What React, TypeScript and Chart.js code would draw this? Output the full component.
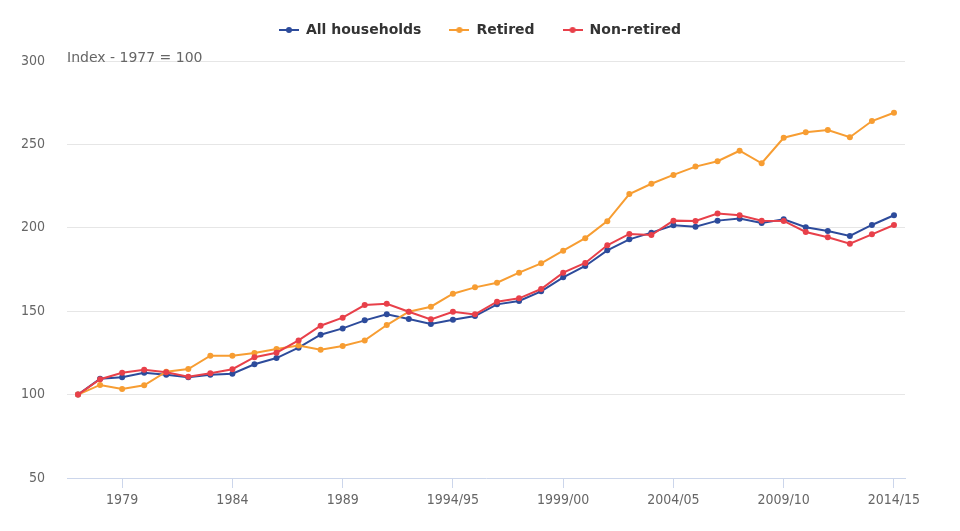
import React, { useEffect, useRef } from 'react';
import { Chart, registerables } from 'chart.js';

Chart.register(...registerables);

const categories = [
  '1977', '1978', '1979', '1980', '1981', '1982', '1983', '1984', '1985', '1986',
  '1987', '1988', '1989', '1990', '1991', '1992', '1993', '1994/95', '1995/96', '1996/97',
  '1997/98', '1998/99', '1999/00', '2000/01', '2001/02', '2002/03', '2003/04', '2004/05',
  '2005/06', '2006/07', '2007/08', '2008/09', '2009/10', '2010/11', '2011/12', '2012/13',
  '2013/14', '2014/15',
];

const allHouseholds = [
  100, 109.5, 110.4, 113.1, 111.9, 110.4, 111.9, 112.5, 118.2, 121.9,
  128.1, 135.9, 139.7, 144.5, 148.1, 145.3, 142.3, 144.9, 147.1, 154.1,
  156.1, 161.9, 170.3, 177.1, 186.5, 193.1, 197.1, 201.5, 200.7, 204.3,
  205.5, 202.9, 205.1, 200.3, 198.1, 195.1, 201.7, 207.5,
];

const retired = [
  100, 105.8, 103.4, 105.6, 113.7, 115.3, 123.3, 123.3, 124.9, 127.3,
  129.5, 126.9, 129.1, 132.5, 141.7, 149.7, 152.7, 160.5, 164.3, 167.1,
  173.1, 178.7, 186.3, 193.8, 204.0, 220.2, 226.4, 231.7, 236.7, 239.9,
  246.2, 238.7, 254.0, 257.3, 258.6, 254.3, 264.0, 269.0,
];

const nonRetired = [
  100, 109.2, 113.1, 114.9, 113.4, 110.7, 112.8, 115.2, 122.4, 125.1,
  132.5, 141.3, 146.1, 153.7, 154.5, 149.7, 145.1, 149.7, 148.1, 155.7,
  157.7, 163.3, 173.1, 178.9, 189.5, 196.3, 195.7, 204.3, 204.1, 208.5,
  207.5, 204.3, 204.1, 197.5, 194.3, 190.5, 196.1, 201.7,
];

const seriesNames = ['All households', 'Retired', 'Non-retired'];
const seriesColors = ['#2d4b9b', '#f79d32', '#e8404a'];
const axisTitle = 'Index - 1977 = 100';
const yMin = 50;
const yMax = 300;
const yStep = 50;
const labelEvery = 5;
const firstLabelIndex = 2;

const TICK_FONT = '"DejaVu Sans Condensed", "DejaVu Sans", sans-serif';
const MAIN_FONT = '"DejaVu Sans", sans-serif';

export default function App() {
  const ref = useRef<HTMLCanvasElement>(null);

  useEffect(() => {
    document.body.style.margin = '0';
    if (!ref.current) return;

    const makeIcon = (color: string) => {
      const c = document.createElement('canvas');
      c.width = 20;
      c.height = 8;
      const g = c.getContext('2d')!;
      g.strokeStyle = color;
      g.lineWidth = 2;
      g.beginPath();
      g.moveTo(0, 4);
      g.lineTo(20, 4);
      g.stroke();
      g.fillStyle = color;
      g.beginPath();
      g.arc(10, 4, 3, 0, Math.PI * 2);
      g.fill();
      return c;
    };
    const icons = seriesColors.map(makeIcon);

    const titlePlugin = {
      id: 'axisTitle',
      afterDraw(chart: any) {
        const { ctx, chartArea } = chart;
        ctx.save();
        ctx.font = '14px ' + MAIN_FONT;
        ctx.fillStyle = '#666666';
        ctx.textAlign = 'left';
        ctx.textBaseline = 'alphabetic';
        ctx.fillText(axisTitle, chartArea.left, chartArea.top + 0.5);
        ctx.restore();
      },
    };

    const legendShift = {
      id: 'legendShift',
      afterLayout(chart: any) {
        const lg = chart.legend;
        if (lg) {
          lg.top -= 14;
          lg.bottom -= 14;
        }
      },
    };

    const values = [allHouseholds, retired, nonRetired];
    const datasets = values.map((data, i) => ({
      label: seriesNames[i],
      data,
      borderColor: seriesColors[i],
      backgroundColor: seriesColors[i],
      pointBackgroundColor: seriesColors[i],
      pointBorderWidth: 0,
      pointRadius: 3,
      pointHoverRadius: 3,
      borderWidth: 2,
      tension: 0,
      fill: false,
      order: 3 - i,
    }));

    const chart = new Chart(ref.current, {
      type: 'line',
      data: { labels: categories, datasets },
      options: {
        animation: false,
        responsive: true,
        maintainAspectRatio: false,
        layout: { padding: { top: 0, left: 0, right: 0, bottom: 0 } },
        plugins: {
          tooltip: { enabled: false },
          legend: {
            position: 'top',
            labels: {
              usePointStyle: true,
              pointStyleWidth: 20,
              padding: 28,
              color: '#333333',
              font: { family: MAIN_FONT, size: 14, weight: 'bold' },
              generateLabels: (c: any) =>
                Chart.defaults.plugins.legend.labels
                  .generateLabels(c)
                  .sort((a: any, b: any) => a.datasetIndex - b.datasetIndex)
                  .map((l: any) => ({ ...l, pointStyle: icons[l.datasetIndex] })),
            },
          },
        },
        scales: {
          x: {
            offset: true,
            grid: {
              offset: false,
              drawOnChartArea: false,
              drawTicks: true,
              tickLength: 10,
              color: (ctx: any) =>
                (ctx.index - firstLabelIndex) % labelEvery === 0 ? '#ccd6eb' : 'rgba(0,0,0,0)',
            },
            border: { display: true, color: '#ccd6eb', width: 1 },
            ticks: {
              autoSkip: false,
              maxRotation: 0,
              minRotation: 0,
              padding: 4,
              color: '#666666',
              font: { family: TICK_FONT, size: 14 },
              callback: (_v: any, index: number) =>
                (index - firstLabelIndex) % labelEvery === 0 ? categories[index] : '',
            },
            afterFit: (scale: any) => {
              scale.height = 53;
              scale.paddingRight = 55;
            },
          },
          y: {
            min: yMin,
            max: yMax,
            grid: {
              drawTicks: false,
              color: (ctx: any) => (ctx.tick && ctx.tick.value === yMin ? 'rgba(0,0,0,0)' : '#e6e6e6'),
            },
            border: { display: false },
            ticks: {
              stepSize: yStep,
              padding: 22,
              color: '#666666',
              font: { family: TICK_FONT, size: 14 },
            },
            afterFit: (scale: any) => {
              scale.width = 67;
              scale.paddingTop = 61;
            },
          },
        },
      },
      plugins: [titlePlugin, legendShift],
    } as any);

    return () => chart.destroy();
  }, []);

  return (
    <div style={{ width: 960, height: 531, position: 'relative' }}>
      <canvas ref={ref} />
    </div>
  );
}
